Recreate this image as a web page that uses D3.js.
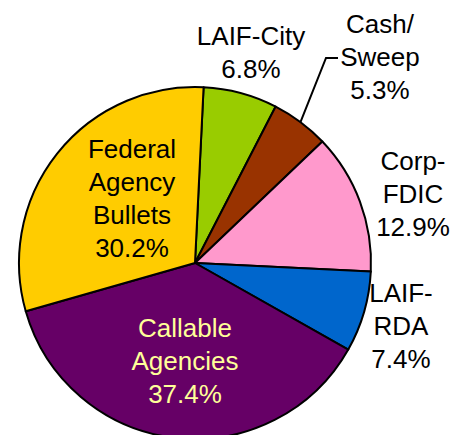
<!DOCTYPE html>
<html>
<head>
<meta charset="utf-8">
<script src="https://cdn.jsdelivr.net/npm/d3@7"></script>
<style>
  html, body { margin: 0; padding: 0; background: #fff; }
  svg { display: block; }
  text { font-family: "Liberation Sans", Arial, sans-serif; font-size: 26px; }
</style>
</head>
<body>
<svg id="chart"></svg>
<script>
// slice data, clockwise from the top
var categories = ["LAIF-City", "Cash/Sweep", "Corp-FDIC", "LAIF-RDA", "Callable Agencies", "Federal Agency Bullets"];
var values = [6.8, 5.3, 12.9, 7.4, 37.4, 30.2];
var labelLines = [
  ["LAIF-City"],
  ["Cash/", "Sweep"],
  ["Corp-", "FDIC"],
  ["LAIF-", "RDA"],
  ["Callable", "Agencies"],
  ["Federal", "Agency", "Bullets"]
];
var colors = ["#99CC00", "#993300", "#FF99CC", "#0066CC", "#660066", "#FFCC00"];

var svgWidth = 453, svgHeight = 435;
var cx = 195, cy = 263, radius = 176;
var startDeg = 2.8;

// label anchor (center x, first baseline) and text colour
var labelPos = [
  { x: 251, y: 45, fill: "#000" },
  { x: 380, y: 33, fill: "#000" },
  { x: 413, y: 170, fill: "#000" },
  { x: 401, y: 302, fill: "#000" },
  { x: 185, y: 337, fill: "#FFFF99" },
  { x: 132, y: 158, fill: "#000" }
];
var lineHeight = 33;

var svg = d3.select("#chart")
    .attr("width", svgWidth)
    .attr("height", svgHeight);

var g = svg.append("g")
    .attr("transform", "translate(" + cx + "," + cy + ")");

var start = startDeg * Math.PI / 180;
var pie = d3.pie()
    .sort(null)
    .value(function(d) { return d; })
    .startAngle(start)
    .endAngle(start + 2 * Math.PI);

var arcs = pie(values);

var arc = d3.arc()
    .innerRadius(0)
    .outerRadius(radius);

g.selectAll("path.slice")
    .data(arcs)
    .enter().append("path")
    .attr("class", "slice")
    .attr("d", arc)
    .attr("fill", function(d, i) { return colors[i]; })
    .attr("stroke", "#000")
    .attr("stroke-width", 2)
    .attr("stroke-linejoin", "round");

// leader line for Cash/Sweep
var cash = arcs[1];
var mid = (cash.startAngle + cash.endAngle) / 2;
var px = radius * Math.sin(mid), py = -radius * Math.cos(mid);
var lp = labelPos[1];
var elbowY = lp.y + 25 - cy;
g.append("polyline")
    .attr("points", [
      [px, py],
      [326 - cx, elbowY],
      [338 - cx, elbowY]
    ].map(function(p) { return p.join(","); }).join(" "))
    .attr("fill", "none")
    .attr("stroke", "#000")
    .attr("stroke-width", 2);

// labels
categories.forEach(function(c, i) {
  var lines = labelLines[i].concat([values[i].toFixed(1) + "%"]);
  var t = svg.append("text")
      .attr("text-anchor", "middle")
      .attr("fill", labelPos[i].fill);
  lines.forEach(function(s, k) {
    t.append("tspan")
        .attr("x", labelPos[i].x)
        .attr("y", labelPos[i].y + k * lineHeight)
        .text(s);
  });
});
</script>
</body>
</html>
